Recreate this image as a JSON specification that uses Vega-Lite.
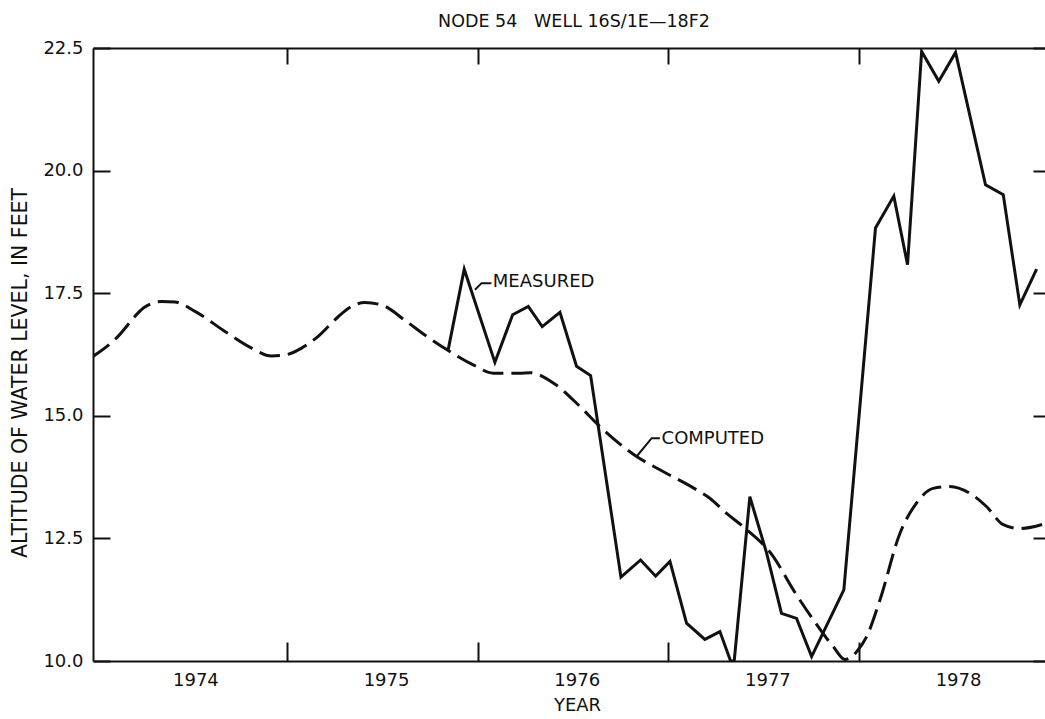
{
  "$schema": "https://vega.github.io/schema/vega-lite/v6.json",
  "width": 952,
  "height": 613,
  "autosize": {"type": "none"},
  "padding": {"left": 93, "top": 48, "right": 0, "bottom": 58},
  "background": "white",
  "title": {"text": "NODE 54\u00a0\u00a0\u00a0WELL 16S/1E\u201418F2", "font": "DejaVu Sans", "fontSize": 17.5, "fontWeight": "normal", "color": "#111", "anchor": "middle", "offset": 9, "dx": 5},
  "config": {
    "view": {"stroke": null},
    "axis": {"labelFont": "DejaVu Sans", "titleFont": "DejaVu Sans", "labelColor": "#111", "titleColor": "#111", "domainColor": "#111", "tickColor": "#111", "grid": false, "domainWidth": 2, "tickWidth": 2}
  },
  "datasets": {
    "computed": [
      {"year": 1973.979, "value": 16.20},
      {"year": 1974.107, "value": 16.59},
      {"year": 1974.220, "value": 17.10},
      {"year": 1974.247, "value": 17.20},
      {"year": 1974.343, "value": 17.33},
      {"year": 1974.413, "value": 17.32},
      {"year": 1974.518, "value": 17.13},
      {"year": 1974.675, "value": 16.72},
      {"year": 1974.815, "value": 16.38},
      {"year": 1974.920, "value": 16.22},
      {"year": 1974.990, "value": 16.24},
      {"year": 1975.077, "value": 16.38},
      {"year": 1975.164, "value": 16.62},
      {"year": 1975.269, "value": 17.02},
      {"year": 1975.339, "value": 17.23},
      {"year": 1975.409, "value": 17.31},
      {"year": 1975.497, "value": 17.26},
      {"year": 1975.628, "value": 16.92},
      {"year": 1975.733, "value": 16.62},
      {"year": 1975.838, "value": 16.35},
      {"year": 1975.977, "value": 16.04},
      {"year": 1976.082, "value": 15.87},
      {"year": 1976.222, "value": 15.87},
      {"year": 1976.274, "value": 15.88},
      {"year": 1976.397, "value": 15.67},
      {"year": 1976.537, "value": 15.19},
      {"year": 1976.642, "value": 14.78},
      {"year": 1976.834, "value": 14.17},
      {"year": 1976.956, "value": 13.90},
      {"year": 1977.149, "value": 13.49},
      {"year": 1977.218, "value": 13.32},
      {"year": 1977.306, "value": 13.01},
      {"year": 1977.393, "value": 12.74},
      {"year": 1977.551, "value": 12.13},
      {"year": 1977.656, "value": 11.45},
      {"year": 1977.761, "value": 10.84},
      {"year": 1977.866, "value": 10.29},
      {"year": 1977.927, "value": 10.03},
      {"year": 1977.988, "value": 10.19},
      {"year": 1978.041, "value": 10.50},
      {"year": 1978.110, "value": 11.24},
      {"year": 1978.215, "value": 12.60},
      {"year": 1978.302, "value": 13.22},
      {"year": 1978.389, "value": 13.52},
      {"year": 1978.477, "value": 13.56},
      {"year": 1978.582, "value": 13.42},
      {"year": 1978.669, "value": 13.15},
      {"year": 1978.757, "value": 12.78},
      {"year": 1978.844, "value": 12.70},
      {"year": 1978.976, "value": 12.80}
    ],
    "measured": [
      {"year": 1975.846, "value": 16.35},
      {"year": 1975.930, "value": 17.99},
      {"year": 1976.091, "value": 16.09},
      {"year": 1976.184, "value": 17.06},
      {"year": 1976.266, "value": 17.23},
      {"year": 1976.339, "value": 16.82},
      {"year": 1976.432, "value": 17.11},
      {"year": 1976.519, "value": 16.01},
      {"year": 1976.593, "value": 15.82},
      {"year": 1976.752, "value": 11.71},
      {"year": 1976.855, "value": 12.06},
      {"year": 1976.934, "value": 11.73},
      {"year": 1977.009, "value": 12.03},
      {"year": 1977.096, "value": 10.77},
      {"year": 1977.192, "value": 10.44},
      {"year": 1977.271, "value": 10.60},
      {"year": 1977.327, "value": 10.00},
      {"year": 1977.346, "value": 10.00},
      {"year": 1977.428, "value": 13.35},
      {"year": 1977.516, "value": 12.20},
      {"year": 1977.594, "value": 10.97},
      {"year": 1977.673, "value": 10.87},
      {"year": 1977.752, "value": 10.09},
      {"year": 1977.921, "value": 11.45},
      {"year": 1978.087, "value": 18.83},
      {"year": 1978.183, "value": 19.48},
      {"year": 1978.255, "value": 18.08},
      {"year": 1978.329, "value": 22.43},
      {"year": 1978.419, "value": 21.82},
      {"year": 1978.507, "value": 22.41},
      {"year": 1978.664, "value": 19.71},
      {"year": 1978.757, "value": 19.51},
      {"year": 1978.844, "value": 17.26},
      {"year": 1978.932, "value": 17.99}
    ],
    "leaders": [
      {"label": "MEASURED", "order": 1, "year": 1975.986, "value": 17.57},
      {"label": "MEASURED", "order": 2, "year": 1976.021, "value": 17.705},
      {"label": "MEASURED", "order": 3, "year": 1976.073, "value": 17.705},
      {"label": "COMPUTED", "order": 1, "year": 1976.834, "value": 14.17},
      {"label": "COMPUTED", "order": 2, "year": 1976.913, "value": 14.544},
      {"label": "COMPUTED", "order": 3, "year": 1976.956, "value": 14.544}
    ],
    "labels": [
      {"label": "MEASURED", "year": 1976.080, "value": 17.72},
      {"label": "COMPUTED", "year": 1976.965, "value": 14.52}
    ]
  },
  "layer": [
    {
      "data": {"name": "computed"},
      "mark": {"type": "line", "color": "#111", "strokeWidth": 3, "strokeDash": [21, 8], "interpolate": "monotone", "clip": true},
      "encoding": {
        "x": {"field": "year", "type": "quantitative",
          "scale": {"domain": [1973.983, 1978.976], "nice": false, "zero": false},
          "axis": {"orient": "bottom", "values": [1974.52, 1975.52, 1976.52, 1977.52, 1978.52], "ticks": false, "domain": true, "labelExpr": "floor(datum.value)", "labelFontSize": 18, "labelPadding": 10, "title": "YEAR", "titleFontSize": 18, "titleFontWeight": "normal", "titleX": 484, "titleY": 44, "titleBaseline": "middle", "titleAlign": "center"}},
        "y": {"field": "value", "type": "quantitative",
          "scale": {"domain": [10, 22.5], "nice": false, "zero": false},
          "axis": {"orient": "left", "values": [10, 12.5, 15, 17.5, 20, 22.5], "format": ".1f", "ticks": false, "labelPadding": 10, "labelFontSize": 18, "title": "ALTITUDE OF WATER LEVEL, IN FEET", "titleFontSize": 20.5, "titleFontWeight": "normal", "titleAngle": -90, "titleX": -73, "titleY": 324.5, "titleAlign": "center", "titleBaseline": "middle"}}
      }
    },
    {
      "data": {"name": "measured"},
      "mark": {"type": "line", "color": "#111", "strokeWidth": 3, "clip": true},
      "encoding": {
        "x": {"field": "year", "type": "quantitative",
          "axis": {"orient": "bottom", "values": [1975, 1976, 1977, 1978], "labels": false, "domain": false, "tickSize": -19, "title": null}},
        "y": {"field": "value", "type": "quantitative",
          "axis": {"orient": "right", "values": [10, 12.5, 15, 17.5, 20, 22.5], "labels": false, "domain": false, "tickSize": -12, "title": null}}
      }
    },
    {
      "data": {"name": "leaders"},
      "mark": {"type": "line", "color": "#111", "strokeWidth": 2},
      "encoding": {
        "x": {"field": "year", "type": "quantitative",
          "axis": {"orient": "top", "values": [1975, 1976, 1977, 1978], "labels": false, "domain": true, "tickSize": -16, "title": null}},
        "y": {"field": "value", "type": "quantitative", "axis": null},
        "detail": {"field": "label"},
        "order": {"field": "order"}
      }
    },
    {
      "data": {"name": "labels"},
      "mark": {"type": "text", "align": "left", "baseline": "middle", "font": "DejaVu Sans", "fontSize": 18, "color": "#111"},
      "encoding": {
        "x": {"field": "year", "type": "quantitative", "axis": null},
        "y": {"field": "value", "type": "quantitative",
          "axis": {"orient": "left", "values": [10, 12.5, 15, 17.5, 20, 22.5], "labels": false, "domain": false, "tickSize": -17, "title": null}},
        "text": {"field": "label"}
      }
    }
  ],
  "resolve": {"axis": {"x": "independent", "y": "independent"}}
}
